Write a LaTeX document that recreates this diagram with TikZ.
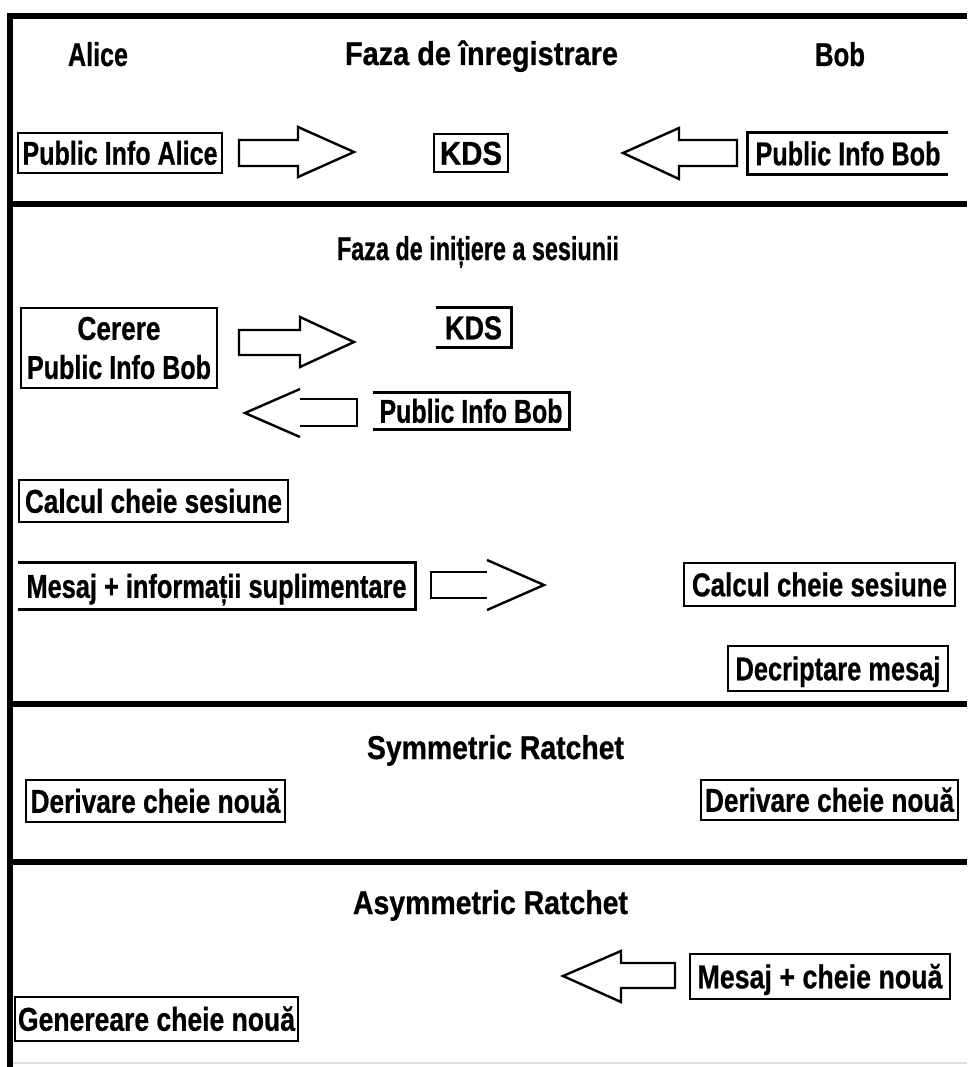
\documentclass[tikz,border=0pt]{standalone}
\usepackage{fontspec}
\setmainfont{Liberation Sans}[BoldFeatures={FakeBold=0.8}]
\usepackage{graphicx}
\newcommand{\tw}[2]{\resizebox{#1pt}{\height}{#2}}
\newcommand{\bxfont}{\bfseries\fontsize{33}{38}\selectfont}
\newcommand{\ttlfont}{\bfseries\fontsize{33}{38}\selectfont}
\begin{document}
\begin{tikzpicture}[x=1pt,y=-1pt,
  bx/.style={draw, line width=2.6pt, inner sep=0pt, font=\bxfont, text height=23.5pt, text depth=0pt},
  obx/.style={bx, draw=none},
  bl/.style={line width=2.6pt},
  ttl/.style={inner sep=0pt, anchor=base, font=\ttlfont},
  sep/.style={line width=6pt},
  blk/.style={line width=2.4pt, line join=miter}]
\useasboundingbox (0,0) rectangle (967,1067);
\fill[white] (0,0) rectangle (967,1067);

% frame and section separators
\draw[sep] (10,13) -- (10,1067);
\draw[sep] (7,16) -- (967,16);
\draw[sep] (7,204) -- (967,204);
\draw[sep] (7,704) -- (967,704);
\draw[sep] (7,862) -- (967,862);
\draw[gray!25, line width=1.5pt] (13,1063) -- (967,1063);

% section 1
\node[ttl] (alice) at (98,66) {\tw{60}{Alice}};
\node[ttl] (t1) at (481.5,65) {\tw{273}{Faza de înregistrare}};
\node[ttl] (bob) at (840,66) {\tw{50}{Bob}};
\node[bx, minimum width=204, minimum height=40] (pia) at (120,153) {\tw{195}{Public Info Alice}};
\node[bx, minimum width=74, minimum height=38] (kds1) at (471,153) {\tw{62}{KDS}};
\node[obx, minimum width=198, minimum height=39] (pib1) at (848,153.5) {\tw{185}{Public Info Bob}};
\draw[bl] (pib1.north east) -- (pib1.north west) -- (pib1.south west) -- (pib1.south east);
\draw[blk] (239,140) -- (298,140) -- (298,127) -- (354,152) -- (298,177) -- (298,166) -- (239,166) -- cycle;
\draw[blk] (737,140) -- (679,140) -- (679,128) -- (623,153) -- (679,179) -- (679,166) -- (737,166) -- cycle;

% section 2
\node[ttl] (t2) at (478,260) {\tw{282}{Faza de inițiere a sesiunii}};
\node[draw, line width=2.6pt, inner sep=0pt, align=center, font=\bfseries\fontsize{33}{39}\selectfont,
      minimum width=196, minimum height=80] (cer) at (119,348) {\tw{83}{Cerere}\\\tw{184}{Public Info Bob}};
\node[obx, minimum width=73, minimum height=37] (kds2) at (473.5,327.5) {\tw{57}{KDS}};
\draw[bl] (kds2.north west) -- (kds2.north east) -- (kds2.south east) -- (kds2.south west);
\node[obx, minimum width=194, minimum height=34] (pib2) at (471,411) {\tw{183}{Public Info Bob}};
\draw[bl] (pib2.north west) -- (pib2.north east) -- (pib2.south east) -- (pib2.south west);
\draw[blk] (239,330) -- (300,330) -- (300,317) -- (354,342) -- (300,367) -- (300,355) -- (239,355) -- cycle;
\draw[blk] (300,389) -- (245,413) -- (300,437);
\draw[blk] (300,399) -- (357,399) -- (357,426) -- (300,426);
\node[bx, minimum width=269, minimum height=42] (calc1) at (153.5,501) {\tw{257}{Calcul cheie sesiune}};
\node[obx, minimum width=395, minimum height=44] (msg1) at (216.5,586) {\tw{380}{Mesaj + informații suplimentare}};
\draw[bl] (msg1.north west) -- (msg1.north east) -- (msg1.south east) -- (msg1.south west);
\draw[blk] (487,572) -- (431,572) -- (431,598) -- (487,598);
\draw[blk] (487,560) -- (544,585) -- (487,610);
\node[bx, minimum width=271, minimum height=43] (calc2) at (819.5,584.5) {\tw{255}{Calcul cheie sesiune}};
\node[bx, minimum width=220, minimum height=45] (dec) at (838,668.5) {\tw{205}{Decriptare mesaj}};

% section 3
\node[ttl] (t3) at (495.5,759) {\tw{257}{Symmetric Ratchet}};
\node[bx, minimum width=259, minimum height=42] (der1) at (155.5,801) {\tw{250}{Derivare cheie nouă}};
\node[bx, minimum width=257, minimum height=40] (der2) at (829.5,800) {\tw{249}{Derivare cheie nouă}};

% section 4
\node[ttl] (t4) at (490.5,914) {\tw{275}{Asymmetric Ratchet}};
\node[bx, minimum width=260, minimum height=45] (msg2) at (820,976.5) {\tw{245}{Mesaj + cheie nouă}};
\draw[blk] (675,963) -- (621,963) -- (621,951) -- (563,976) -- (621,1002) -- (621,988) -- (675,988) -- cycle;
\node[bx, minimum width=283, minimum height=44] (gen) at (156.5,1019) {\tw{277}{Genereare cheie nouă}};
\end{tikzpicture}
\end{document}
